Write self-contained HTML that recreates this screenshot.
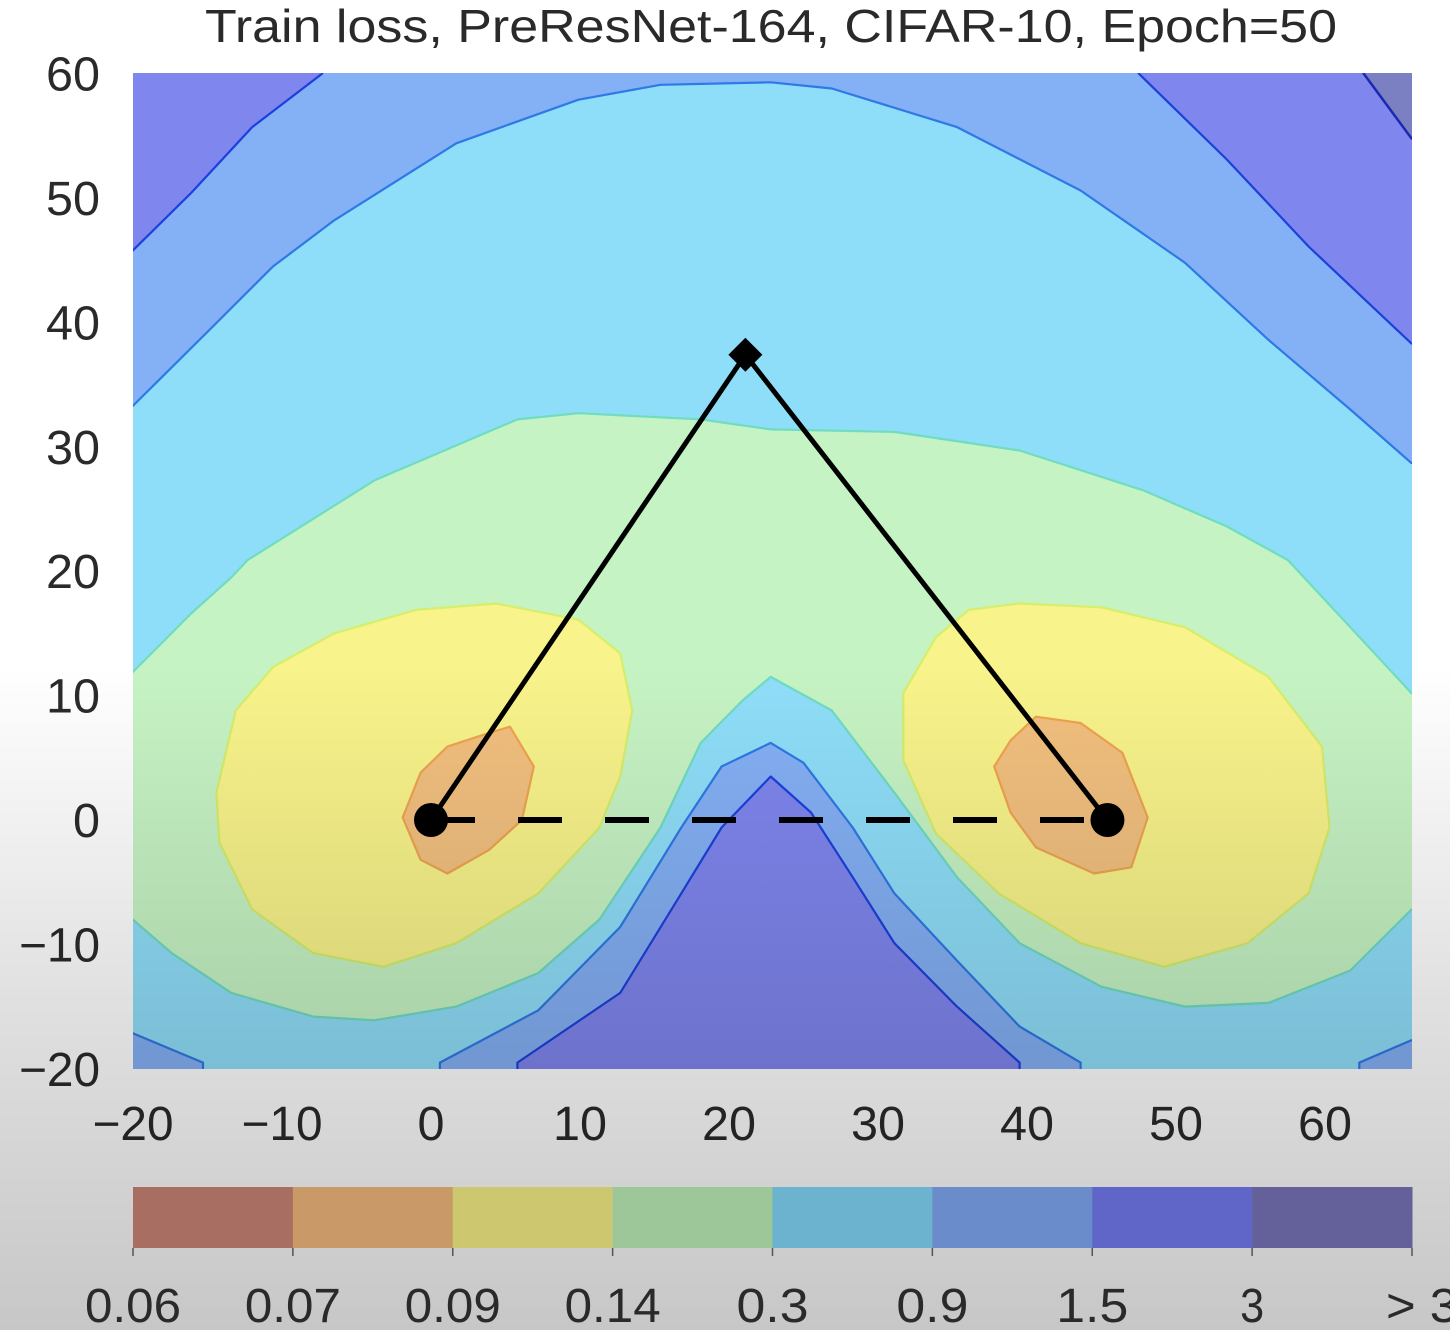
<!DOCTYPE html>
<html><head><meta charset="utf-8"><style>
html,body{margin:0;padding:0;background:#fff;}
svg{display:block;}
text{font-family:"Liberation Sans",sans-serif;fill:#2a2a2a;}
</style></head><body>
<svg id="chart" width="1450" height="1330" viewBox="0 0 1450 1330">
<defs>
<clipPath id="plotClip"><rect x="133" y="73" width="1279" height="996"/></clipPath>
<linearGradient id="shade" x1="0" y1="0" x2="0" y2="1">
<stop offset="0" stop-color="#000" stop-opacity="0"/>
<stop offset="0.5" stop-color="#000" stop-opacity="0"/>
<stop offset="0.75" stop-color="#000" stop-opacity="0.12"/>
<stop offset="1" stop-color="#000" stop-opacity="0.22"/>
</linearGradient>
</defs>
<g id="plot" clip-path="url(#plotClip)"></g>
<g id="paths"></g>
<g id="axes"></g>
<text x="771" y="42" text-anchor="middle" font-size="46" textLength="1132" lengthAdjust="spacingAndGlyphs">Train loss, PreResNet-164, CIFAR-10, Epoch=50</text>
<rect x="0" y="0" width="1450" height="1330" fill="url(#shade)" pointer-events="none"/>
<g id="cbar"></g>
</svg>
<script>
const xTicks = [-20,-10,0,10,20,30,40,50,60];
const yTicks = [-20,-10,0,10,20,30,40,50,60];
const cbLabels = ["0.06","0.07","0.09","0.14","0.3","0.9","1.5","3","> 3"];
const cbColors = ["#a86e62","#c99a68","#cdc870","#9dc699","#6cb3d0","#6a8cca","#6066c8","#64619a"];
const levelFill = ["#7f86ee","#84b0f5","#8fdef9","#c6f3c4","#f8f38a","#f2c07f"];
const levelLine = ["#1c40dc","#2f78e6","#70dcc0","#d6ee6c","#efa450"];
const cornerFill = "#7a80c2";
// contour boundaries (data coordinates)
const regionC8 = [[62.6,60],[65.8,54.8],[66.5,54.8],[66.5,61],[62.6,61]];
const regionC6 = [[-20.5,45.2],[-16.1,50.4],[-12.0,55.7],[-7.3,60],[-7.3,61],[47.5,61],[47.5,60],[53.4,53.1],[58.9,46.1],[65.8,38.3],[66.5,38.3],[66.5,-21],[39.5,-21],[39.5,-19.5],[35.3,-15.0],[31.1,-9.9],[28.3,-4.6],[25.5,0.6],[22.8,3.5],[19.5,-0.6],[16.8,-5.9],[12.7,-13.9],[5.8,-19.5],[5.8,-21],[-20.5,-21]];
const regionC5 = [[-20.5,32.7],[-14.7,39.6],[-10.6,44.5],[-6.5,48.2],[1.7,54.4],[9.9,57.9],[15.4,59.1],[22.8,59.3],[26.9,58.8],[35.3,55.7],[43.6,50.6],[50.6,44.8],[56.2,38.6],[61.7,33.0],[65.8,28.7],[66.5,28.7],[66.5,-17.7],[65.8,-17.7],[62.3,-19.5],[62.3,-21],[43.6,-21],[43.6,-19.5],[39.5,-16.6],[35.3,-11.3],[31.1,-5.9],[28.3,-0.6],[25.0,4.6],[22.8,6.2],[19.5,4.3],[16.8,-0.6],[12.7,-8.6],[7.2,-15.3],[0.6,-19.5],[0.6,-21],[-15.3,-21],[-15.3,-19.5],[-20.5,-16.9]];
const regionC4 = [[-20.5,11.3],[-16.1,16.6],[-13.4,19.5],[-12.3,20.9],[-3.8,27.3],[5.8,32.2],[9.9,32.7],[18.1,32.2],[22.8,31.4],[31.1,31.2],[39.5,29.7],[47.8,26.5],[53.4,23.6],[57.5,20.9],[61.7,15.5],[65.8,10.2],[66.5,10.2],[66.5,-7.2],[65.8,-7.2],[61.7,-12.1],[56.2,-14.7],[50.6,-15.0],[45.0,-13.4],[39.5,-9.9],[35.3,-4.6],[31.1,2.2],[26.9,8.8],[22.8,11.5],[20.9,9.6],[18.1,6.2],[15.4,-0.6],[11.3,-8.0],[7.2,-12.3],[1.7,-15.0],[-3.8,-16.1],[-7.9,-15.8],[-13.4,-13.9],[-17.4,-10.7],[-20.5,-7.5]];
const regionC3a = [[4.4,17.4],[9.9,16.1],[12.7,13.4],[13.5,8.8],[12.7,3.5],[11.3,-0.6],[7.2,-5.9],[1.7,-9.9],[-3.2,-11.8],[-7.9,-10.7],[-12.0,-7.2],[-14.2,-1.8],[-14.4,2.2],[-13.1,8.8],[-10.6,12.3],[-6.5,15.0],[-1.0,16.9]];
const regionC3b = [[39.5,17.4],[45.0,17.1],[50.6,15.5],[56.2,11.5],[59.8,5.9],[60.3,-0.6],[58.9,-5.9],[54.8,-9.9],[49.2,-11.8],[43.6,-9.9],[38.1,-5.9],[33.9,-1.1],[31.7,4.8],[31.7,10.2],[33.9,14.7],[36.1,16.9]];
const regionC2a = [[5.3,7.5],[6.9,4.3],[6.1,0],[3.9,-2.4],[1.1,-4.3],[-0.7,-3.2],[-1.9,0.2],[-0.7,3.8],[1.1,5.9],[3.9,7.0]];
const regionC2b = [[40.6,8.3],[43.6,7.8],[46.4,5.4],[48.1,0.2],[47.0,-3.8],[44.5,-4.3],[40.6,-2.2],[38.9,0.6],[37.8,4.3],[38.9,6.4]];
const minimumA = [0,0];
const minimumB = [45.4,0];
const bendPoint = [21.1,37.4];

const NS = "http://www.w3.org/2000/svg";
const sx = x => 133 + (x + 20) * 14.9;
const sy = y => 820 - y * 12.44;
function mk(tag, attrs, parent){ const e=document.createElementNS(NS,tag); for(const k in attrs) e.setAttribute(k,attrs[k]); parent.appendChild(e); return e; }
function ptsStr(arr){ return arr.map(p=>sx(p[0]).toFixed(1)+","+sy(p[1]).toFixed(1)).join(" "); }

const plot = document.getElementById("plot");
let base = mk("rect",{x:133,y:73,width:1279,height:996,fill:levelFill[0]},plot);


let c8 = mk("polygon",{points:ptsStr(regionC8),fill:cornerFill,stroke:"#1a2ab0","stroke-width":2.5},plot);


const regions = [
 [regionC6,1,0,'region-0p9-to-1p5'],
 [regionC5,2,1,'region-0p3-to-0p9'],
 [regionC4,3,2,'region-0p14-to-0p3'],
 [regionC3a,4,3,'region-0p09-to-0p14-left'],
 [regionC3b,4,3,'region-0p09-to-0p14-right'],
 [regionC2a,5,4,'region-0p07-to-0p09-left'],
 [regionC2b,5,4,'region-0p07-to-0p09-right']
];
regions.forEach(r=>{
  const p = mk("polygon",{points:ptsStr(r[0]),fill:levelFill[r[1]],stroke:levelLine[r[2]],"stroke-width":2.2,"stroke-linejoin":"round"},plot);
  
  
});

const paths = document.getElementById("paths");
const dash = mk("line",{x1:sx(minimumA[0]),y1:sy(minimumA[1]),x2:sx(minimumB[0]),y2:sy(minimumB[1]),stroke:"#000","stroke-width":6,"stroke-dasharray":"44 43"},paths);


const curve = mk("polyline",{points:ptsStr([minimumA,bendPoint,minimumB]),fill:"none",stroke:"#000","stroke-width":5,"stroke-linejoin":"miter"},paths);


[minimumA,minimumB].forEach((m,i)=>{
  const c = mk("circle",{cx:sx(m[0]),cy:sy(m[1]),r:17,fill:"#000"},paths);
  
  
});
const bx=sx(bendPoint[0]), by=sy(bendPoint[1]);
const dm = mk("polygon",{points:`${bx},${by-17} ${bx+17},${by} ${bx},${by+17} ${bx-17},${by}`,fill:"#000"},paths);



const axes = document.getElementById("axes");
const fmt = v => v<0 ? "\u2212"+Math.abs(v) : String(v);
yTicks.forEach(v=>{
  const s = fmt(v);
  const t = mk("text",{x:100,y:sy(v)+17,"text-anchor":"end","font-size":48,textLength:(s.length*27),lengthAdjust:"spacingAndGlyphs"},axes);
  t.textContent = s;
  
  
});
xTicks.forEach(v=>{
  const s = fmt(v);
  const t = mk("text",{x:sx(v),y:1140,"text-anchor":"middle","font-size":48,textLength:(s.length*27),lengthAdjust:"spacingAndGlyphs"},axes);
  t.textContent = s;
  
  
});

const cbar = document.getElementById("cbar");
const segW = 1279/cbColors.length;
cbColors.forEach((c,i)=>{
  const r = mk("rect",{x:133+i*segW,y:1187,width:segW+0.5,height:61,fill:c},cbar);
  
  
});
cbLabels.forEach((s,i)=>{
  const x = 133+i*segW;
  const tk = mk("line",{x1:x,y1:1248,x2:x,y2:1256,stroke:"#555","stroke-width":1.5},cbar);
  
  
  const w = s.length*24;
  const t = mk("text",{x:(i===cbLabels.length-1? x+10 : x),y:1322,"text-anchor":"middle","font-size":48,textLength:w,lengthAdjust:"spacingAndGlyphs"},cbar);
  t.textContent = s;
  
  
});
</script>
</body></html>
